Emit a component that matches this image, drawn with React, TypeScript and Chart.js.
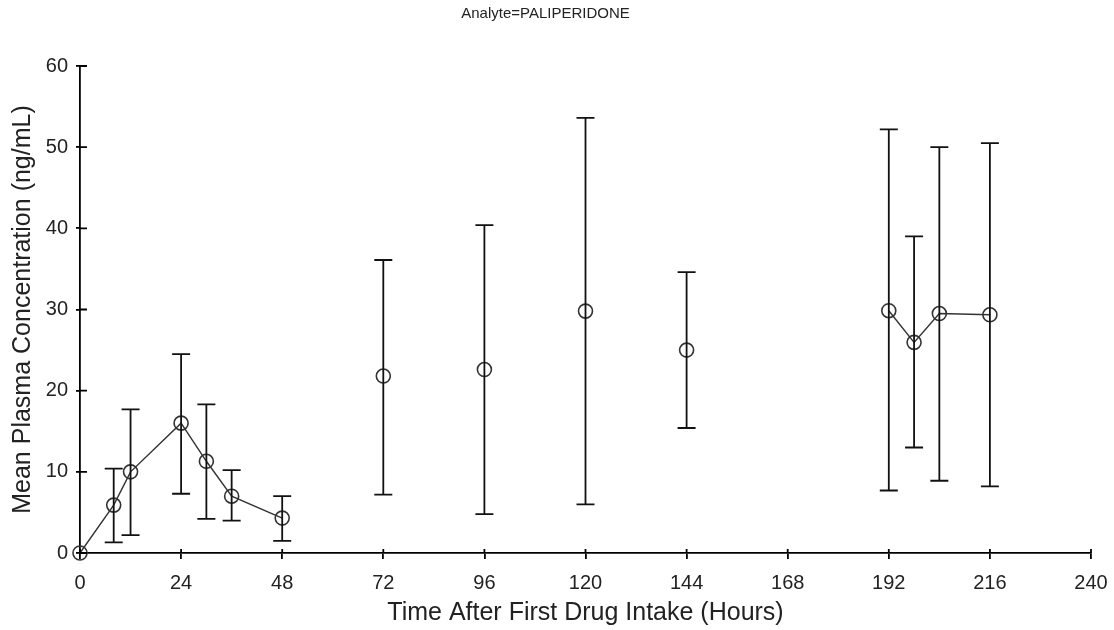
import React, { useEffect, useRef } from "react";
import Chart from "chart.js/auto";

const chartTitle = "Analyte=PALIPERIDONE";
const xTitle = "Time After First Drug Intake (Hours)";
const yTitle = "Mean Plasma Concentration (ng/mL)";

// Segment 1 (connected)
const times1 = [0, 8, 12, 24, 30, 36, 48];
const means1 = [0, 5.9, 10.0, 16.0, 11.3, 7.0, 4.3];
const upper1: (number | null)[] = [null, 10.4, 17.7, 24.5, 18.3, 10.2, 7.0];
const lower1: (number | null)[] = [null, 1.3, 2.2, 7.3, 4.2, 4.0, 1.5];

// Segment 2 (isolated points)
const times2 = [72, 96, 120, 144];
const means2 = [21.8, 22.6, 29.8, 25.0];
const upper2: (number | null)[] = [36.1, 40.4, 53.6, 34.6];
const lower2: (number | null)[] = [7.2, 4.8, 6.0, 15.4];

// Segment 3 (connected)
const times3 = [192, 198, 204, 216];
const means3 = [29.85, 25.95, 29.5, 29.35];
const upper3: (number | null)[] = [52.2, 39.0, 50.0, 50.5];
const lower3: (number | null)[] = [7.7, 13.0, 8.9, 8.2];

const xMin = 0;
const xMax = 240;
const xStep = 24;
const yMin = 0;
const yMax = 60;
const yStep = 10;

const FONT = "Arial, 'Liberation Sans', sans-serif";

const toPts = (xs: number[], ys: number[]) => xs.map((x, i) => ({ x, y: ys[i] }));

const errorBarPlugin = {
  id: "errorBars",
  afterDatasetsDraw(chart: any) {
    const { ctx, scales } = chart;
    const xs = scales.x;
    const ys = scales.y;
    const groups = [
      [times1, upper1, lower1],
      [times2, upper2, lower2],
      [times3, upper3, lower3],
    ] as [number[], (number | null)[], (number | null)[]][];
    ctx.save();
    ctx.strokeStyle = "#111";
    ctx.lineWidth = 1.8;
    const cap = 9;
    groups.forEach(([t, up, lo]) => {
      t.forEach((tv, i) => {
        const u = up[i];
        const l = lo[i];
        if (u == null || l == null) return;
        const px = xs.getPixelForValue(tv);
        const pu = ys.getPixelForValue(u);
        const pl = ys.getPixelForValue(l);
        ctx.beginPath();
        ctx.moveTo(px, pu);
        ctx.lineTo(px, pl);
        ctx.moveTo(px - cap, pu);
        ctx.lineTo(px + cap, pu);
        ctx.moveTo(px - cap, pl);
        ctx.lineTo(px + cap, pl);
        ctx.stroke();
      });
    });
    ctx.restore();
  },
};

const innerTicksPlugin = {
  id: "innerTicks",
  afterDraw(chart: any) {
    const { ctx, scales, chartArea } = chart;
    ctx.save();
    ctx.strokeStyle = "#000";
    ctx.lineWidth = 1.8;
    ctx.beginPath();
    scales.x.ticks.forEach((t: any) => {
      const px = scales.x.getPixelForValue(t.value);
      ctx.moveTo(px, chartArea.bottom);
      ctx.lineTo(px, chartArea.bottom - 4);
    });
    scales.y.ticks.forEach((t: any) => {
      const py = scales.y.getPixelForValue(t.value);
      ctx.moveTo(chartArea.left, py);
      ctx.lineTo(chartArea.left + 7, py);
    });
    ctx.stroke();
    ctx.restore();
  },
};

export default function App() {
  const canvasRef = useRef<HTMLCanvasElement | null>(null);

  useEffect(() => {
    if (!canvasRef.current) return;
    const pointStyle = {
      pointRadius: 7,
      pointHoverRadius: 7,
      pointBorderWidth: 1.6,
      pointBorderColor: "#333",
      pointBackgroundColor: "rgba(0,0,0,0)",
      borderColor: "#333",
      borderWidth: 1.4,
      tension: 0,
      clip: false as any,
    };
    const chart = new Chart(canvasRef.current, {
      type: "line",
      data: {
        datasets: [
          { data: toPts(times1, means1), showLine: true, ...pointStyle },
          { data: toPts(times2, means2), showLine: false, ...pointStyle },
          { data: toPts(times3, means3), showLine: true, ...pointStyle },
        ],
      },
      options: {
        responsive: false,
        animation: false,
        devicePixelRatio: 1,
        layout: { padding: { left: 0, right: 23, top: 0, bottom: 0 } },
        plugins: {
          legend: { display: false },
          tooltip: { enabled: false },
          title: {
            display: true,
            text: chartTitle,
            color: "#222",
            font: { family: FONT, size: 15, weight: "normal" },
            padding: { top: 5, bottom: 43 },
          },
        },
        scales: {
          x: {
            type: "linear",
            min: xMin,
            max: xMax,
            afterFit: (s: any) => {
              s.height = 77;
              s.paddingLeft = 0;
              s.paddingRight = 0;
            },
            ticks: {
              stepSize: xStep,
              autoSkip: false,
              maxRotation: 0,
              color: "#222",
              padding: 12,
              font: { family: FONT, size: 20 },
            },
            grid: {
              drawOnChartArea: false,
              drawTicks: true,
              tickLength: 6,
              color: "#000",
              lineWidth: 1.8,
            },
            border: { display: true, color: "#000", width: 1.8 },
            title: {
              display: true,
              text: xTitle,
              color: "#222",
              font: { family: FONT, size: 25 },
              padding: { top: 0, bottom: 2 },
            },
          },
          y: {
            type: "linear",
            min: yMin,
            max: yMax,
            afterFit: (s: any) => {
              s.width = 80;
              s.paddingTop = 0;
              s.paddingBottom = 0;
            },
            ticks: {
              stepSize: yStep,
              color: "#222",
              padding: 8,
              font: { family: FONT, size: 20 },
            },
            grid: {
              drawOnChartArea: false,
              drawTicks: true,
              tickLength: 4,
              color: "#000",
              lineWidth: 1.8,
            },
            border: { display: true, color: "#000", width: 1.8 },
            title: {
              display: true,
              text: yTitle,
              color: "#222",
              font: { family: FONT, size: 25 },
              padding: { top: 8, bottom: 0 },
            },
          },
        },
      },
      plugins: [errorBarPlugin, innerTicksPlugin],
    });
    return () => chart.destroy();
  }, []);

  return (
    <div style={{ position: "absolute", left: 0, top: 0, width: 1114, height: 630, background: "#fff" }}>
      <canvas ref={canvasRef} width={1114} height={630} />
    </div>
  );
}
